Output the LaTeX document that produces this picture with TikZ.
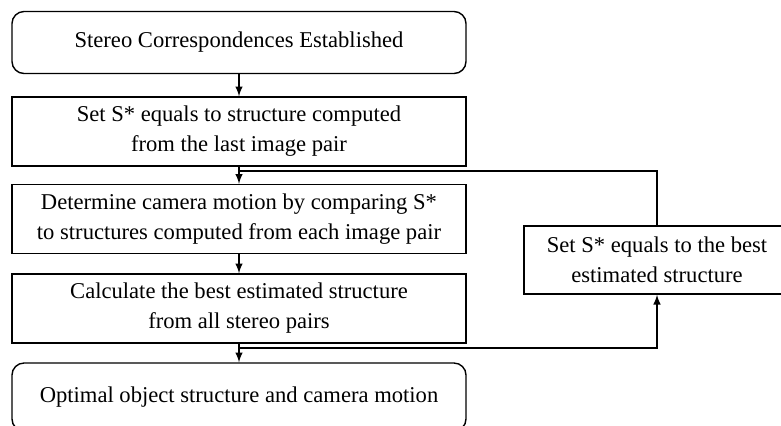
\documentclass[tikz,border=0pt]{standalone}
\usepackage{fontspec}
\setmainfont{Liberation Serif}
\usetikzlibrary{arrows}
\tikzset{
  stepbox/.style={draw,line width=0.7pt,align=center,minimum width=227pt,minimum height=34.5pt,inner sep=2pt},
  endbox/.style={stepbox,rounded corners=6pt,minimum height=31pt}
}
\begin{document}
\begin{tikzpicture}[x=0.5pt,y=-0.5pt,>=latex,font=\fontsize{11.3}{15}\selectfont,line width=0.7pt]
  \clip (0,0) rectangle (781,425);
  \node [endbox] (start) at (239,42.5) {Stereo Correspondences Established};
  \node [stepbox] (init) at (239,131.5) {Set S* equals to structure computed\\ from the last image pair};
  \node [stepbox] (motion) at (239,219) {Determine camera motion by comparing S*\\ to structures computed from each image pair};
  \node [stepbox] (best) at (239,308.5) {Calculate the best estimated structure\\ from all stereo pairs};
  \node [endbox,minimum height=34pt] (result) at (239,397) {Optimal object structure and camera motion};
  \node [stepbox,minimum width=133pt,minimum height=34pt] (update) at (657,260) {Set S* equals to the best\\ estimated structure};
  % main flow
  \draw [->] (start) -- (init);
  \draw [->] (init) -- (motion);
  \draw [->] (motion) -- (best);
  \draw [->] (best) -- (result);
  % feedback loop
  \coordinate (split) at (239,348);
  \coordinate (join) at (239,171);
  \draw [->] (split) -| (update.south);
  \draw (update.north) |- (join);
\end{tikzpicture}
\end{document}
